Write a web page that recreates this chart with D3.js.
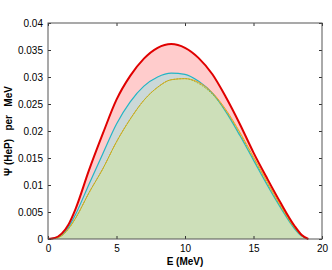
<!DOCTYPE html>
<html>
<head>
<meta charset="utf-8">
<script src="https://cdn.jsdelivr.net/npm/d3@7"></script>
<style>
  body { margin: 0; background: #fff; }
  text { font-family: "Liberation Sans", Arial, sans-serif; }
</style>
</head>
<body>
<div id="vis"></div>
<script>
const FRAME_WIDTH = 332;
const FRAME_HEIGHT = 270;
const MARGINS = {left: 48, right: 10, top: 23, bottom: 31};

const VIS_WIDTH = FRAME_WIDTH - MARGINS.left - MARGINS.right;
const VIS_HEIGHT = FRAME_HEIGHT - MARGINS.top - MARGINS.bottom;

// energies (MeV)
const energy = [0, 0.5, 1, 1.5, 2, 3, 4, 5, 6, 7, 8, 9, 10, 11, 12, 13, 14, 15, 16, 17, 18, 18.5, 19];

// spectra
const redVals    = [0, 0.0002, 0.0010, 0.0027, 0.0055, 0.0128, 0.0195, 0.0258, 0.0302, 0.0334, 0.0354, 0.0361, 0.0354, 0.0335, 0.0305, 0.0262, 0.0213, 0.0160, 0.0112, 0.0066, 0.0024, 0.0008, 0];
const blueVals   = [0, 0.0002, 0.0008, 0.0022, 0.0045, 0.0102, 0.0158, 0.0213, 0.0254, 0.0283, 0.0300, 0.0307, 0.0305, 0.0292, 0.0270, 0.0235, 0.0192, 0.0146, 0.0100, 0.0057, 0.0019, 0.0006, 0];
const orangeVals = [0, 0.0001, 0.0006, 0.0019, 0.0038, 0.0086, 0.0130, 0.0180, 0.0222, 0.0257, 0.0281, 0.0295, 0.0297, 0.0290, 0.0271, 0.0239, 0.0198, 0.0152, 0.0106, 0.0061, 0.0022, 0.0007, 0];
const greenVals  = [0, 0.0001, 0.0006, 0.0019, 0.0038, 0.0086, 0.0130, 0.0180, 0.0222, 0.0257, 0.0281, 0.0295, 0.0297, 0.0288, 0.0268, 0.0236, 0.0195, 0.0149, 0.0103, 0.0059, 0.0020, 0.0006, 0];

const xTicks = [0, 5, 10, 15, 20];
const yTicks = [0, 0.005, 0.01, 0.015, 0.02, 0.025, 0.03, 0.035, 0.04];

const X_SCALE = d3.scaleLinear().domain([0, 20]).range([0, VIS_WIDTH]);
const Y_SCALE = d3.scaleLinear().domain([0, 0.04]).range([VIS_HEIGHT, 0]);

const svg = d3.select("#vis")
  .append("svg")
    .attr("width", FRAME_WIDTH)
    .attr("height", FRAME_HEIGHT);

const g = svg.append("g")
  .attr("transform", "translate(" + MARGINS.left + "," + MARGINS.top + ")");

const area = d3.area()
  .x((d, i) => X_SCALE(energy[i]))
  .y0(Y_SCALE(0))
  .y1(d => Y_SCALE(d))
  .curve(d3.curveMonotoneX);

const line = d3.line()
  .x((d, i) => X_SCALE(energy[i]))
  .y(d => Y_SCALE(d))
  .curve(d3.curveMonotoneX);

// fills
g.append("path").datum(redVals).attr("d", area).attr("fill", "#ffcccc");
g.append("path").datum(blueVals).attr("d", area).attr("fill", "#cbd8d8");
g.append("path").datum(greenVals).attr("d", area).attr("fill", "#cddfb9");

// lines
g.append("path").datum(blueVals).attr("d", line)
  .attr("fill", "none").attr("stroke", "#22b5c5").attr("stroke-width", 1.2);
g.append("path").datum(orangeVals).attr("d", line)
  .attr("fill", "none").attr("stroke", "#f0a020").attr("stroke-width", 1);
g.append("path").datum(greenVals).attr("d", line)
  .attr("fill", "none").attr("stroke", "#a8b828").attr("stroke-width", 1)
  .attr("stroke-dasharray", "2,1");
g.append("path").datum(redVals).attr("d", line)
  .attr("fill", "none").attr("stroke", "#e00000").attr("stroke-width", 2);

// axes, matlab style: box with inward ticks
const axisColor = "#333";
function styleAxis(sel) {
  sel.select(".domain").remove();
  sel.selectAll(".tick line").attr("stroke", axisColor);
  sel.selectAll(".tick text").attr("fill", "#000").attr("font-size", "10px");
}

g.append("g")
  .attr("transform", "translate(0," + VIS_HEIGHT + ")")
  .call(d3.axisBottom(X_SCALE).tickValues(xTicks).tickSize(-3).tickPadding(6).tickFormat(d3.format("d")))
  .call(styleAxis);

g.append("g")
  .call(d3.axisTop(X_SCALE).tickValues(xTicks).tickSize(-3).tickFormat(""))
  .call(styleAxis);

g.append("g")
  .call(d3.axisLeft(Y_SCALE).tickValues(yTicks).tickSize(-3).tickPadding(5).tickFormat(d => d === 0 ? "0" : d3.format("")(+d.toFixed(3))))
  .call(styleAxis);

g.append("g")
  .attr("transform", "translate(" + VIS_WIDTH + ",0)")
  .call(d3.axisRight(Y_SCALE).tickValues(yTicks).tickSize(-3).tickFormat(""))
  .call(styleAxis);

g.append("rect")
  .attr("x", 0).attr("y", 0)
  .attr("width", VIS_WIDTH).attr("height", VIS_HEIGHT)
  .attr("fill", "none").attr("stroke", "#555").attr("stroke-width", 1);

// labels
svg.append("text")
  .attr("x", MARGINS.left + VIS_WIDTH / 2)
  .attr("y", 265)
  .attr("text-anchor", "middle")
  .attr("font-size", "10px")
  .attr("font-weight", "bold")
  .text("E (MeV)");

svg.append("text")
  .attr("transform", "translate(12," + (MARGINS.top + VIS_HEIGHT / 2) + ") rotate(-90)")
  .attr("text-anchor", "middle")
  .attr("font-size", "10px")
  .attr("font-weight", "bold")
  .style("white-space", "pre")
  .text("\u03A8 (HeP)   per   MeV");
</script>
</body>
</html>
